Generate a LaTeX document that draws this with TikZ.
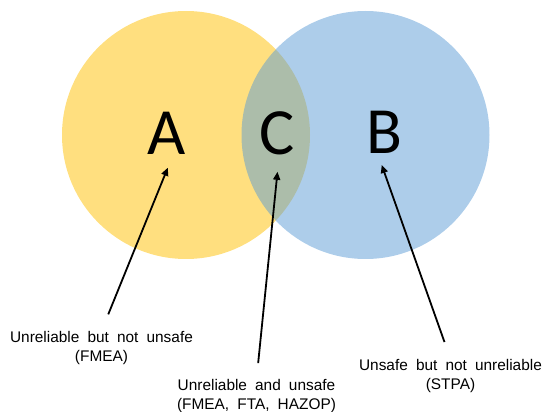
\documentclass[tikz,border=0pt]{standalone}
\usepackage{fontspec}
\setmainfont{Liberation Sans}[WordSpace=1.9]
\newfontfamily\letterfont{Carlito}
\usetikzlibrary{arrows.meta}
\definecolor{ygold}{HTML}{FFC000}
\definecolor{oblue}{HTML}{5B9BD5}
\tikzset{
  setfill/.style={fill opacity=0.5, draw=none},
  bigletter/.style={anchor=base, inner sep=0pt, font=\letterfont\fontsize{66}{66}\selectfont},
  lbl/.style={align=center, inner sep=0pt, anchor=north, font=\fontsize{15.4}{19}\selectfont},
  arr/.style={line width=1.8pt, -{Triangle[length=8pt,width=7pt]}, shorten <=18pt}
}
\begin{document}
\begin{tikzpicture}[x=1pt,y=-1pt]
\useasboundingbox (0,0) rectangle (542,412);
\fill[ygold, setfill] (186,135) circle [radius=124pt];
\fill[oblue, setfill] (365.5,135) circle [radius=124pt];
\node[bigletter] (A) at (166.7,155) {A};
\node[bigletter] (C) at (276.7,155) {C};
\node[bigletter] (B) at (384,154) {B};
\node[lbl] (la) at (101.5,331) {Unreliable but not unsafe\\(FMEA)};
\node[lbl] (lc) at (256.5,379.5) {Unreliable and unsafe\\(FMEA, FTA, HAZOP)};
\node[lbl] (lb) at (450.5,359) {Unsafe but not unreliable\\(STPA)};
\coordinate (hA) at (167.8,167.7);
\coordinate (hC) at (277.5,171.8);
\coordinate (hB) at (381.7,165);
\draw[arr] (la.north) -- (hA);
\draw[arr, shorten <=16.5pt] (lc.north) -- (hC);
\draw[arr] (lb.north) -- (hB);
\end{tikzpicture}
\end{document}
